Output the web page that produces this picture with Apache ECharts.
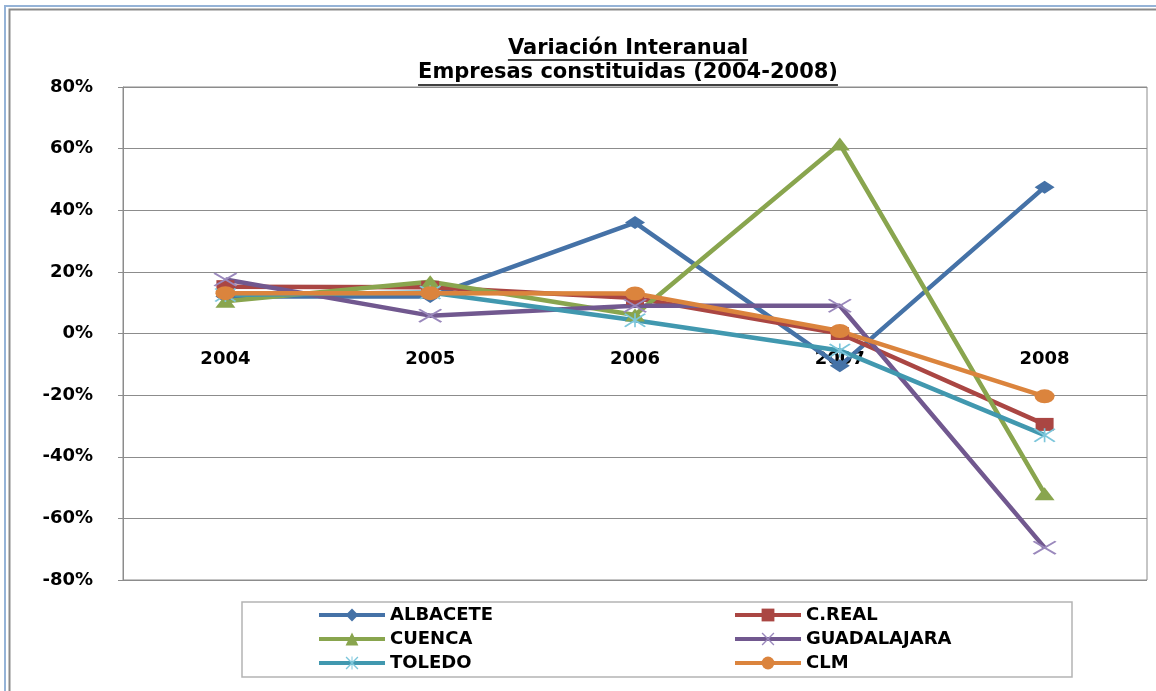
<!DOCTYPE html>
<html><head><meta charset="utf-8">
<script src="https://cdn.jsdelivr.net/npm/echarts@6/dist/echarts.min.js"></script>
<style>html,body{margin:0;padding:0;background:#fff}#c{width:1156px;height:691px}</style>
</head><body><div id="c"></div>
<script>
// ---- data ----
const categories = ['2004', '2005', '2006', '2007', '2008'];
const seriesNames = ['ALBACETE', 'C.REAL', 'CUENCA', 'GUADALAJARA', 'TOLEDO', 'CLM'];
const albacete    = [12,   12,   36,   -10.5, 47.5];
const cReal       = [15.2, 15,   11.5,  0,   -29.5];
const cuenca      = [10.5, 16.8,  6,   61.5, -52];
const guadalajara = [17.5,  5.8,  9,    9,   -69.5];
const toledo      = [12.5, 13.3,  4.3, -5.5, -33];
const clm         = [13.1, 13.1, 13,    0.8, -20.4];
const yMin = -80, yMax = 80, yStep = 20;
const titleLines = ['Variación Interanual', 'Empresas constituidas (2004-2008)'];
const legendLeftNames = ['ALBACETE', 'CUENCA', 'TOLEDO'];
const legendRightNames = ['C.REAL', 'GUADALAJARA', 'CLM'];

// ---- styling ----
const colors = ['#4572A7', '#AA4643', '#89A54E', '#71588F', '#4198AF', '#DB843D'];
const FONT = '"DejaVu Sans", Verdana, sans-serif';
const X_PATH = 'path://M0,1.5L1.5,0L20,18.5L18.5,20Z M18.5,0L20,1.5L1.5,20L0,18.5Z';
const STAR_PATH = 'path://M0,1.5L1.5,0L20,18.5L18.5,20Z M18.5,0L20,1.5L1.5,20L0,18.5Z M9.25,0L10.75,0L10.75,20L9.25,20Z';

const seriesData = [albacete, cReal, cuenca, guadalajara, toledo, clm];
const symbols = ['diamond', 'rect', 'triangle', X_PATH, STAR_PATH, 'circle'];
const symbolSizes = [[20, 13], [18, 13], [20, 13], [24, 14], [22, 14], [20, 14]];
const symbolColors = ['#4572A7', '#AA4643', '#89A54E', '#9A88BC', '#7CC6DB', '#DB843D'];

const gridTop = 87, gridBottom = 111, chartH = 691;
// x axis sits on the 0% line (middle of the symmetric value range)
const plotH = chartH - gridTop - gridBottom;
const xAxisOffset = -plotH * (0 - yMin) / (yMax - yMin);

const titleFontSize = 21;
const ctx = document.createElement('canvas').getContext('2d');
ctx.font = 'bold ' + titleFontSize + 'px "DejaVu Sans"';
const tw = titleLines.map(t => ctx.measureText(t).width);
const titleCenter = 628;

const legendCommon = {
  orient: 'vertical', top: 606, padding: 0,
  itemWidth: 66, itemHeight: 16, itemGap: 6,
  lineStyle: { width: 4 },
  textStyle: { fontFamily: FONT, fontWeight: 'bold', fontSize: 18, lineHeight: 18, color: '#000' }
};

const chart = echarts.init(document.getElementById('c'));
const option = {
  backgroundColor: '#ffffff',
  animation: false,
  color: colors,
  title: {
    text: titleLines.join('\n'),
    left: titleCenter,
    top: 37,
    padding: 0,
    textAlign: 'center',
    textStyle: { fontFamily: FONT, fontWeight: 'bold', fontSize: titleFontSize, lineHeight: 24, color: '#000' }
  },
  grid: {
    left: 123, right: 9, top: gridTop, bottom: gridBottom,
    show: true, borderColor: '#8c8c8c', borderWidth: 1, backgroundColor: 'transparent'
  },
  legend: [
    Object.assign({ data: legendLeftNames, left: 317 }, legendCommon),
    Object.assign({ data: legendRightNames, left: 733 }, legendCommon)
  ],
  xAxis: {
    type: 'category',
    data: categories,
    boundaryGap: true,
    offset: xAxisOffset,
    axisLine: { onZero: false, lineStyle: { color: '#8c8c8c', width: 1 } },
    axisTick: { show: false },
    axisLabel: { margin: 17, fontFamily: FONT, fontWeight: 'bold', fontSize: 18, color: '#000' },
    splitLine: { show: false }
  },
  yAxis: {
    type: 'value',
    min: yMin, max: yMax, interval: yStep,
    axisLine: { show: true, lineStyle: { color: '#8c8c8c', width: 1 } },
    axisTick: { show: true, length: 5, lineStyle: { color: '#8c8c8c' } },
    axisLabel: { formatter: '{value}%', margin: 30, fontFamily: FONT, fontWeight: 'bold', fontSize: 18, color: '#000' },
    splitLine: { show: true, lineStyle: { color: '#8c8c8c', width: 1 } }
  },
  series: seriesNames.map((name, i) => ({
    name: name,
    type: 'line',
    data: seriesData[i],
    symbol: symbols[i],
    symbolSize: symbolSizes[i],
    showAllSymbol: true,
    lineStyle: { width: 4.5, color: colors[i] },
    itemStyle: { color: symbolColors[i] },
    emphasis: { disabled: true }
  })),
  graphic: [
    { type: 'rect', silent: true, z: -10, shape: { x: 5, y: 6, width: 1300, height: 900 },
      style: { fill: 'none', stroke: '#95B3D7', lineWidth: 2 } },
    { type: 'rect', silent: true, z: -10, shape: { x: 9.5, y: 9.5, width: 1300, height: 900 },
      style: { fill: 'none', stroke: '#8a8a8a', lineWidth: 2 } },
    { type: 'rect', silent: true, z: -5, shape: { x: 242, y: 602, width: 830, height: 75 },
      style: { fill: 'none', stroke: '#b4b4b4', lineWidth: 1.5 } },
    { type: 'line', silent: true, shape: { x1: titleCenter - tw[0] / 2, y1: 60, x2: titleCenter + tw[0] / 2, y2: 60 },
      style: { stroke: '#000', lineWidth: 1.5 } },
    { type: 'line', silent: true, shape: { x1: titleCenter - tw[1] / 2, y1: 85, x2: titleCenter + tw[1] / 2, y2: 85 },
      style: { stroke: '#000', lineWidth: 1.5 } }
  ]
};
chart.setOption(option);
</script>
</body></html>
